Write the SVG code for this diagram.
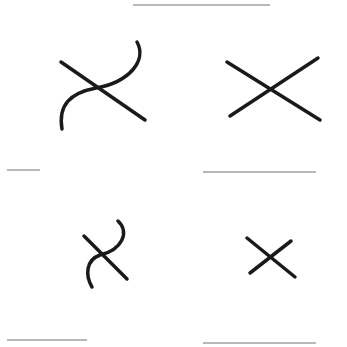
<svg xmlns="http://www.w3.org/2000/svg" width="347" height="347" viewBox="0 0 347 347">
<style>
.s{fill:none;stroke:#1a1a1a;stroke-width:3.5;stroke-linecap:round}
.f{stroke:#b8b8b8;stroke-width:2;fill:none}
</style>
<rect width="347" height="347" fill="#ffffff"/>
<g id="rules">
<line class="f" x1="133" y1="5" x2="270" y2="5"/>
<line class="f" x1="203" y1="172" x2="316" y2="172"/>
<line class="f" x1="7" y1="170" x2="40" y2="170"/>
<line class="f" x1="7" y1="340" x2="87" y2="340"/>
<line class="f" x1="203" y1="343" x2="316" y2="343"/>
</g>
<g id="panel1">
<line class="s" x1="61" y1="62" x2="145" y2="120"/>
<path class="s" d="M137,42 C147,60 130,82 96,88 C70,93 58,105 62,129"/>
</g>
<g id="panel2">
<line class="s" x1="227" y1="62" x2="320" y2="120"/>
<line class="s" x1="318" y1="58" x2="230" y2="116"/>
</g>
<g id="panel3">
<line class="s" x1="84" y1="236" x2="127" y2="279"/>
<path class="s" d="M118,221 C130,232 122,250 100,255 C86,260 85,275 92,287"/>
</g>
<g id="panel4">
<line class="s" x1="247" y1="238" x2="295" y2="277"/>
<line class="s" x1="291" y1="241" x2="250" y2="273"/>
</g>
</svg>
